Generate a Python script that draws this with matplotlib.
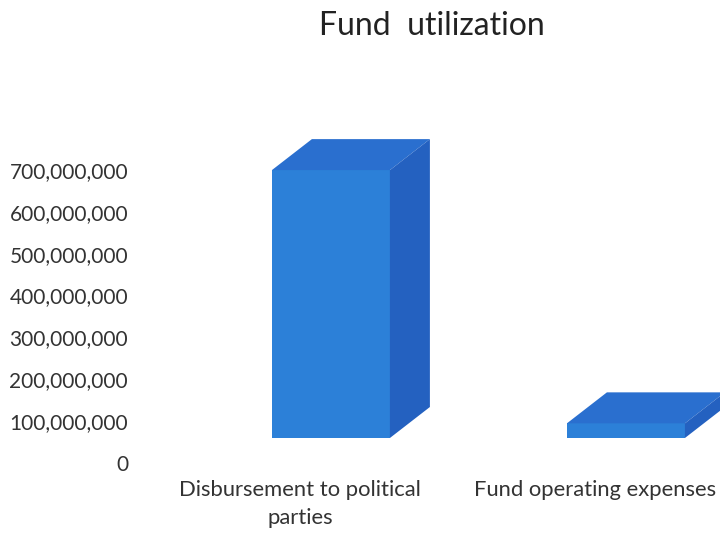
#!/usr/bin/env python3
import matplotlib as mpl

mpl.use("Agg")
import matplotlib.pyplot as plt
from matplotlib.patches import Polygon
from matplotlib.ticker import FuncFormatter
from matplotlib.transforms import ScaledTranslation

CATEGORIES = ["Disbursement to political\nparties", "Fund operating expenses"]
VALUES = [640_000_000, 35_000_000]
Y_TICKS = [0, 100_000_000, 200_000_000, 300_000_000, 400_000_000,
           500_000_000, 600_000_000, 700_000_000]

FRONT = "#2C80D8"
TOP = "#2A6FCF"
SIDE = "#2461C0"
TEXT = "#333333"
DPI = 100

mpl.rcParams["font.family"] = ["Lato", "DejaVu Sans"]

fig = plt.figure(figsize=(7.2, 5.33), dpi=DPI)
ax = fig.add_axes([140 / 720, (533 - 463) / 533, 580 / 720, (463 - 170) / 533])
ax.set_xlim(-0.542, 1.424)
ax.set_ylim(0, 700_000_000)

# fake depth: front face sits back/right of the floor edge, depth faces go up-right
px_x = 295.0             # pixels per category unit
px_y = 293.0 / 700e6     # pixels per value unit
shift = ax.transData + ScaledTranslation(31 / DPI, 25 / DPI, fig.dpi_scale_trans)
width = 118 / px_x
ddx = 40 / px_x
ddy = 31 / px_y

xs = list(range(len(CATEGORIES)))
ax.bar(xs, VALUES, width=width, color=FRONT, transform=shift, clip_on=False, zorder=3)
for x, v in zip(xs, VALUES):
    x0, x1 = x - width / 2, x + width / 2
    top = Polygon([(x0, v), (x1, v), (x1 + ddx, v + ddy), (x0 + ddx, v + ddy)],
                  closed=True, facecolor=TOP, edgecolor="none", transform=shift,
                  clip_on=False, zorder=3)
    side = Polygon([(x1, 0), (x1 + ddx, ddy), (x1 + ddx, v + ddy), (x1, v)],
                   closed=True, facecolor=SIDE, edgecolor="none", transform=shift,
                   clip_on=False, zorder=3)
    ax.add_patch(top)
    ax.add_patch(side)

ax.set_yticks(Y_TICKS)
ax.yaxis.set_major_formatter(FuncFormatter(lambda v, _: f"{int(v):,}"))
ax.set_xticks(xs, CATEGORIES)
ax.tick_params(axis="y", length=0, pad=8.6, labelsize=15, colors=TEXT)
ax.tick_params(axis="x", length=0, pad=12, labelsize=15.8, colors=TEXT)
for lab in ax.get_xticklabels():
    lab.set_linespacing(1.5)
for s in ax.spines.values():
    s.set_visible(False)

fig.text(432 / 720, 1 - 26 / 533, "Fund  utilization", ha="center", va="center",
         fontsize=23, color="#222222")

fig.savefig("out.png", dpi=DPI, facecolor="white")
